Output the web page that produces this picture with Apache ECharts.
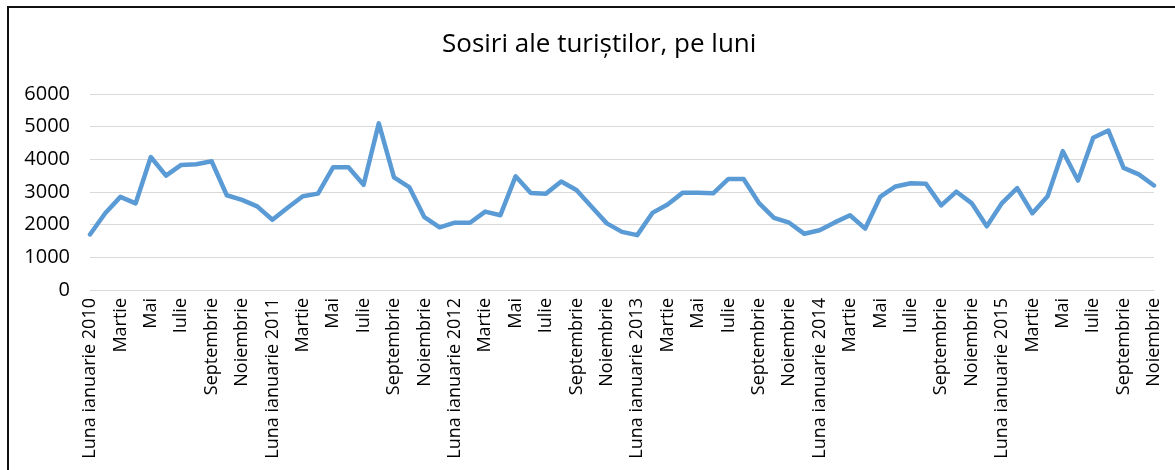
<!DOCTYPE html>
<html>
<head>
<meta charset="utf-8">
<script src="https://cdn.jsdelivr.net/npm/echarts@6/dist/echarts.min.js"></script>
<style>
  html, body { margin: 0; padding: 0; background: #fff; }
  #frame { position: absolute; left: 0; top: 0; width: 1175px; height: 470px; overflow: hidden; }
  #border { position: absolute; left: 7px; top: 6px; width: 1300px; height: 600px;
            border-left: 2px solid #111; border-top: 2px solid #111; }
  #chart { position: absolute; left: 0; top: 0; width: 1175px; height: 470px; }
</style>
</head>
<body>
<div id="frame">
  <div id="border"></div>
  <div id="chart"></div>
</div>
<script>
// luni: ianuarie 2010 - noiembrie 2015
const monthNames = ['Februarie', 'Martie', 'Aprilie', 'Mai', 'Iunie', 'Iulie',
  'August', 'Septembrie', 'Octombrie', 'Noiembrie', 'Decembrie']
const years = [2010, 2011, 2012, 2013, 2014, 2015]

const sosiri = [
  1700, 2350, 2850, 2650, 4070, 3500, 3830, 3850, 3940, 2900, 2760, 2560,
  2150, 2520, 2870, 2950, 3760, 3760, 3220, 5100, 3450, 3150, 2230, 1920,
  2060, 2060, 2400, 2290, 3480, 2970, 2950, 3320, 3060, 2550, 2040, 1780,
  1680, 2360, 2620, 2980, 2980, 2960, 3400, 3400, 2670, 2210, 2060, 1720,
  1830, 2070, 2290, 1880, 2860, 3170, 3270, 3250, 2590, 3010, 2660, 1950,
  2660, 3120, 2350, 2870, 4250, 3350, 4660, 4880, 3740, 3540, 3200
]

const yTicks = [0, 1000, 2000, 3000, 4000, 5000, 6000]

const categories = []
years.forEach(y => {
  categories.push('Luna ianuarie ' + y)
  monthNames.forEach(m => categories.push(m))
})
categories.length = sosiri.length

const font = '"Open Sans", "Liberation Sans", sans-serif'
const chart = echarts.init(document.getElementById('chart'), null, { renderer: 'canvas' })

const option = {
  backgroundColor: 'transparent',
  animation: false,
  title: {
    text: 'Sosiri ale turiștilor, pe luni',
    left: 437,
    top: 27,
    textStyle: { fontFamily: font, fontSize: 26, fontWeight: 'normal', color: '#000' }
  },
  grid: { left: 90, right: 21, top: 94, bottom: 180, containLabel: false },
  xAxis: {
    type: 'category',
    data: categories,
    boundaryGap: false,
    axisLine: { show: true, lineStyle: { color: '#d9d9d9', width: 1 } },
    axisTick: { show: false },
    axisLabel: {
      interval: 1,
      rotate: 90,
      margin: 8,
      fontFamily: font,
      fontSize: 18,
      color: '#000'
    }
  },
  yAxis: {
    type: 'value',
    min: yTicks[0],
    max: yTicks[yTicks.length - 1],
    interval: 1000,
    axisLine: { show: false },
    axisTick: { show: false },
    axisLabel: { fontFamily: font, fontSize: 20, color: '#000', margin: 20, formatter: v => String(v) },
    splitLine: { lineStyle: { color: '#d9d9d9', width: 1 } }
  },
  series: [
    {
      type: 'line',
      data: sosiri,
      symbol: 'none',
      lineStyle: { color: '#5b9bd5', width: 4.5, join: 'round', cap: 'round' }
    }
  ]
}
chart.setOption(option)
</script>
</body>
</html>
